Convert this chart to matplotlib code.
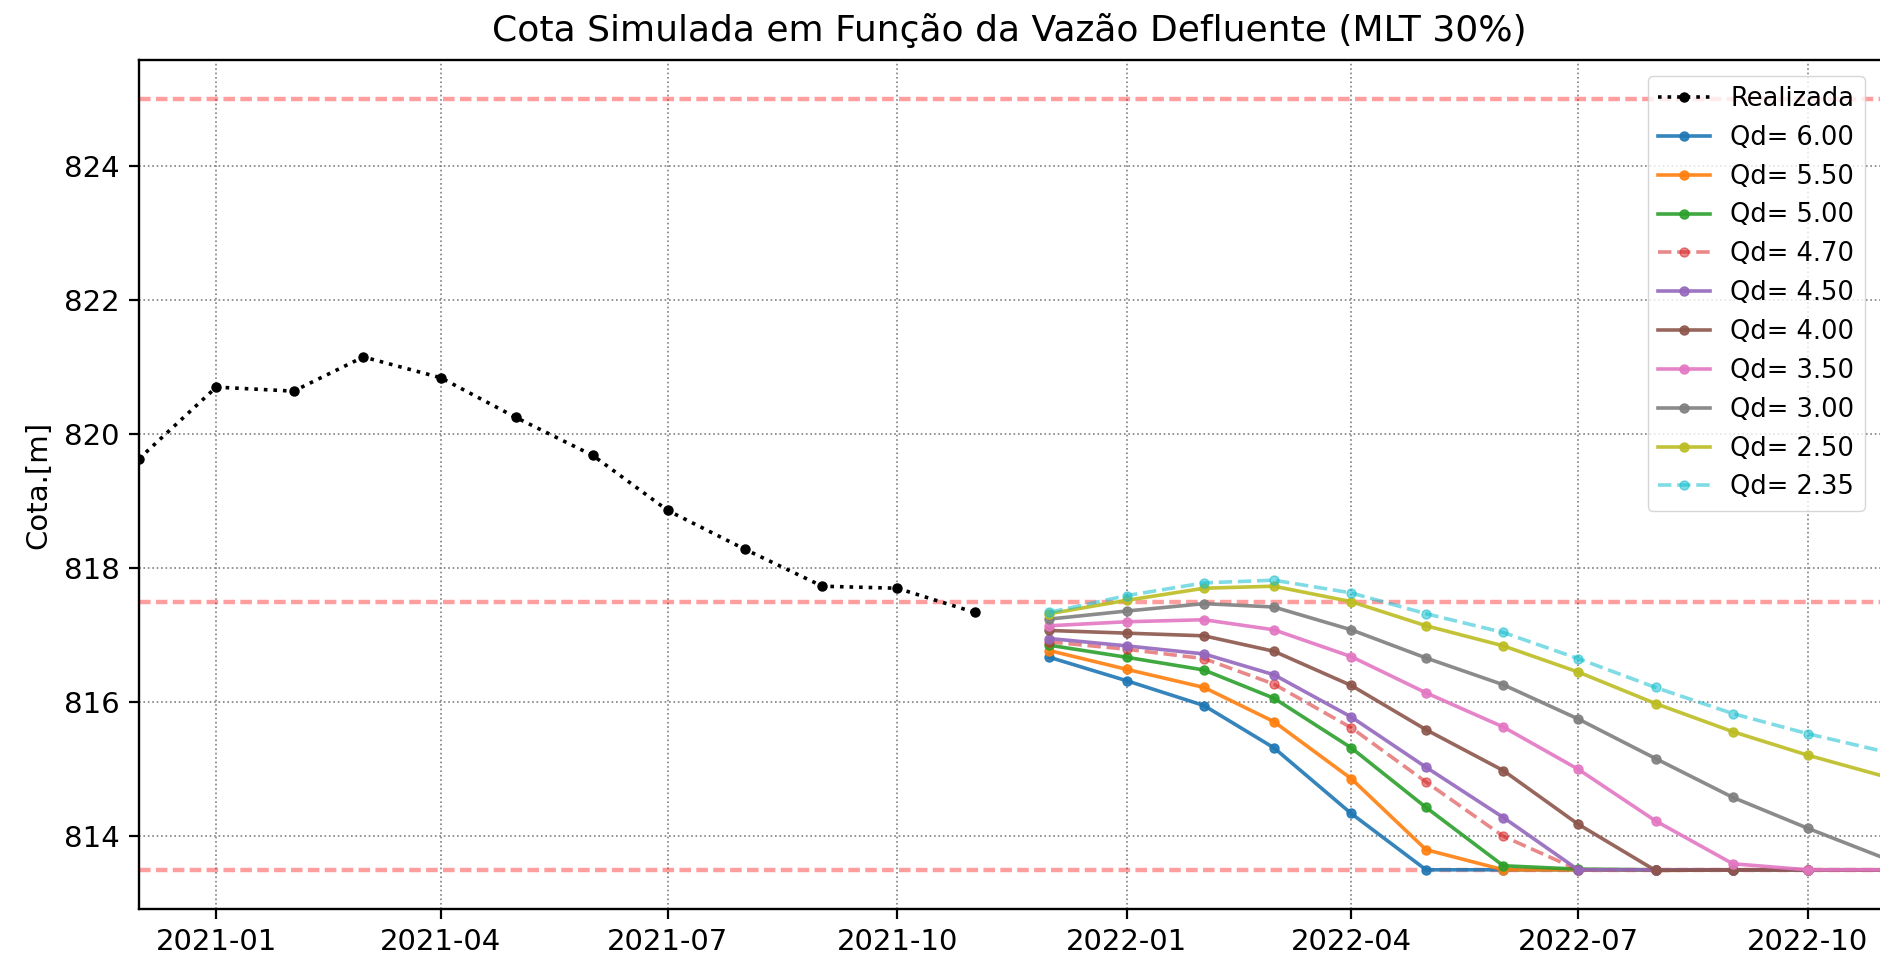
import matplotlib
matplotlib.use("Agg")
import matplotlib.pyplot as plt
import matplotlib.dates as mdates
import pandas as pd

# realised reservoir level (monthly)
datas_real = pd.date_range("2020-12-01", periods=12, freq="MS")
cota_real = [819.63, 820.70, 820.64, 821.15, 820.84, 820.25, 819.68, 818.86, 818.28, 817.73, 817.70, 817.34]

# simulated levels for each outflow
datas_sim = pd.date_range("2021-12-01", periods=12, freq="MS")
qd_labels = ["6.00", "5.50", "5.00", "4.70", "4.50", "4.00", "3.50", "3.00", "2.50", "2.35"]
q600 = [816.67, 816.32, 815.95, 815.32, 814.34, 813.50, 813.50, 813.50, 813.50, 813.50, 813.50, 813.50]
q550 = [816.77, 816.49, 816.22, 815.71, 814.86, 813.80, 813.50, 813.50, 813.50, 813.50, 813.50, 813.50]
q500 = [816.85, 816.67, 816.48, 816.06, 815.32, 814.43, 813.56, 813.51, 813.50, 813.50, 813.50, 813.50]
q470 = [816.90, 816.79, 816.65, 816.27, 815.62, 814.81, 814.00, 813.50, 813.50, 813.50, 813.50, 813.50]
q450 = [816.95, 816.84, 816.72, 816.41, 815.78, 815.03, 814.28, 813.50, 813.50, 813.50, 813.50, 813.50]
q400 = [817.07, 817.03, 816.99, 816.76, 816.25, 815.59, 814.98, 814.18, 813.49, 813.50, 813.50, 813.50]
q350 = [817.14, 817.20, 817.23, 817.08, 816.68, 816.14, 815.63, 815.00, 814.23, 813.59, 813.50, 813.50]
q300 = [817.24, 817.36, 817.47, 817.42, 817.08, 816.66, 816.26, 815.75, 815.16, 814.58, 814.12, 813.67]
q250 = [817.32, 817.52, 817.70, 817.73, 817.50, 817.14, 816.84, 816.45, 815.98, 815.56, 815.21, 814.89]
q235 = [817.34, 817.59, 817.78, 817.82, 817.63, 817.32, 817.04, 816.65, 816.22, 815.83, 815.53, 815.26]
series = [q600, q550, q500, q470, q450, q400, q350, q300, q250, q235]

# reference levels
niveis = [825.0, 817.5, 813.5]

plt.rcParams["font.family"] = "DejaVu Sans"
fig = plt.figure(figsize=(18.8, 9.58), dpi=100)
ax = fig.add_axes([0.0739, 0.0511, 0.9261, 0.886])

for n in niveis:
    ax.axhline(n, color="red", alpha=0.38, ls="--", lw=3.2, dashes=(2.6, 1.2))

ax.plot(datas_real, cota_real, "k:", marker=".", ms=13, lw=2.6, label="Realizada")

cores = ["tab:blue", "tab:orange", "tab:green", "tab:red", "tab:purple",
         "tab:brown", "tab:pink", "tab:gray", "tab:olive", "tab:cyan"]
for vals, lab, c in zip(series, qd_labels, cores):
    if lab in ("4.70", "2.35"):
        ax.plot(datas_sim, vals, ls="--", marker=".", ms=13, lw=2.6, color=c, alpha=0.55, label="Qd= " + lab)
    else:
        ax.plot(datas_sim, vals, ls="-", marker=".", ms=13, lw=2.6, color=c, alpha=0.9, label="Qd= " + lab)

ax.set_xlim(pd.Timestamp("2020-12-01"), pd.Timestamp("2022-10-30"))
ax.xaxis.set_major_locator(mdates.MonthLocator(bymonth=[1, 4, 7, 10]))
ax.xaxis.set_major_formatter(mdates.DateFormatter("%Y-%m"))
ax.set_yticks([814, 816, 818, 820, 822, 824])

ax.grid(True, ls=":", color="gray", lw=1.2)
ax.spines["right"].set_visible(False)
for s in ["left", "top", "bottom"]:
    ax.spines[s].set_linewidth(1.7)
ax.tick_params(labelsize=21, length=7, width=1.6, pad=7)

ax.set_title("Cota Simulada em Função da Vazão Defluente (MLT 30%)", fontsize=26, pad=14)
ax.set_ylabel("Cota.[m]", fontsize=21, labelpad=8)
ax.legend(loc="upper right", fontsize=18.5, borderaxespad=0.6)

fig.savefig("out.png", dpi=100)
